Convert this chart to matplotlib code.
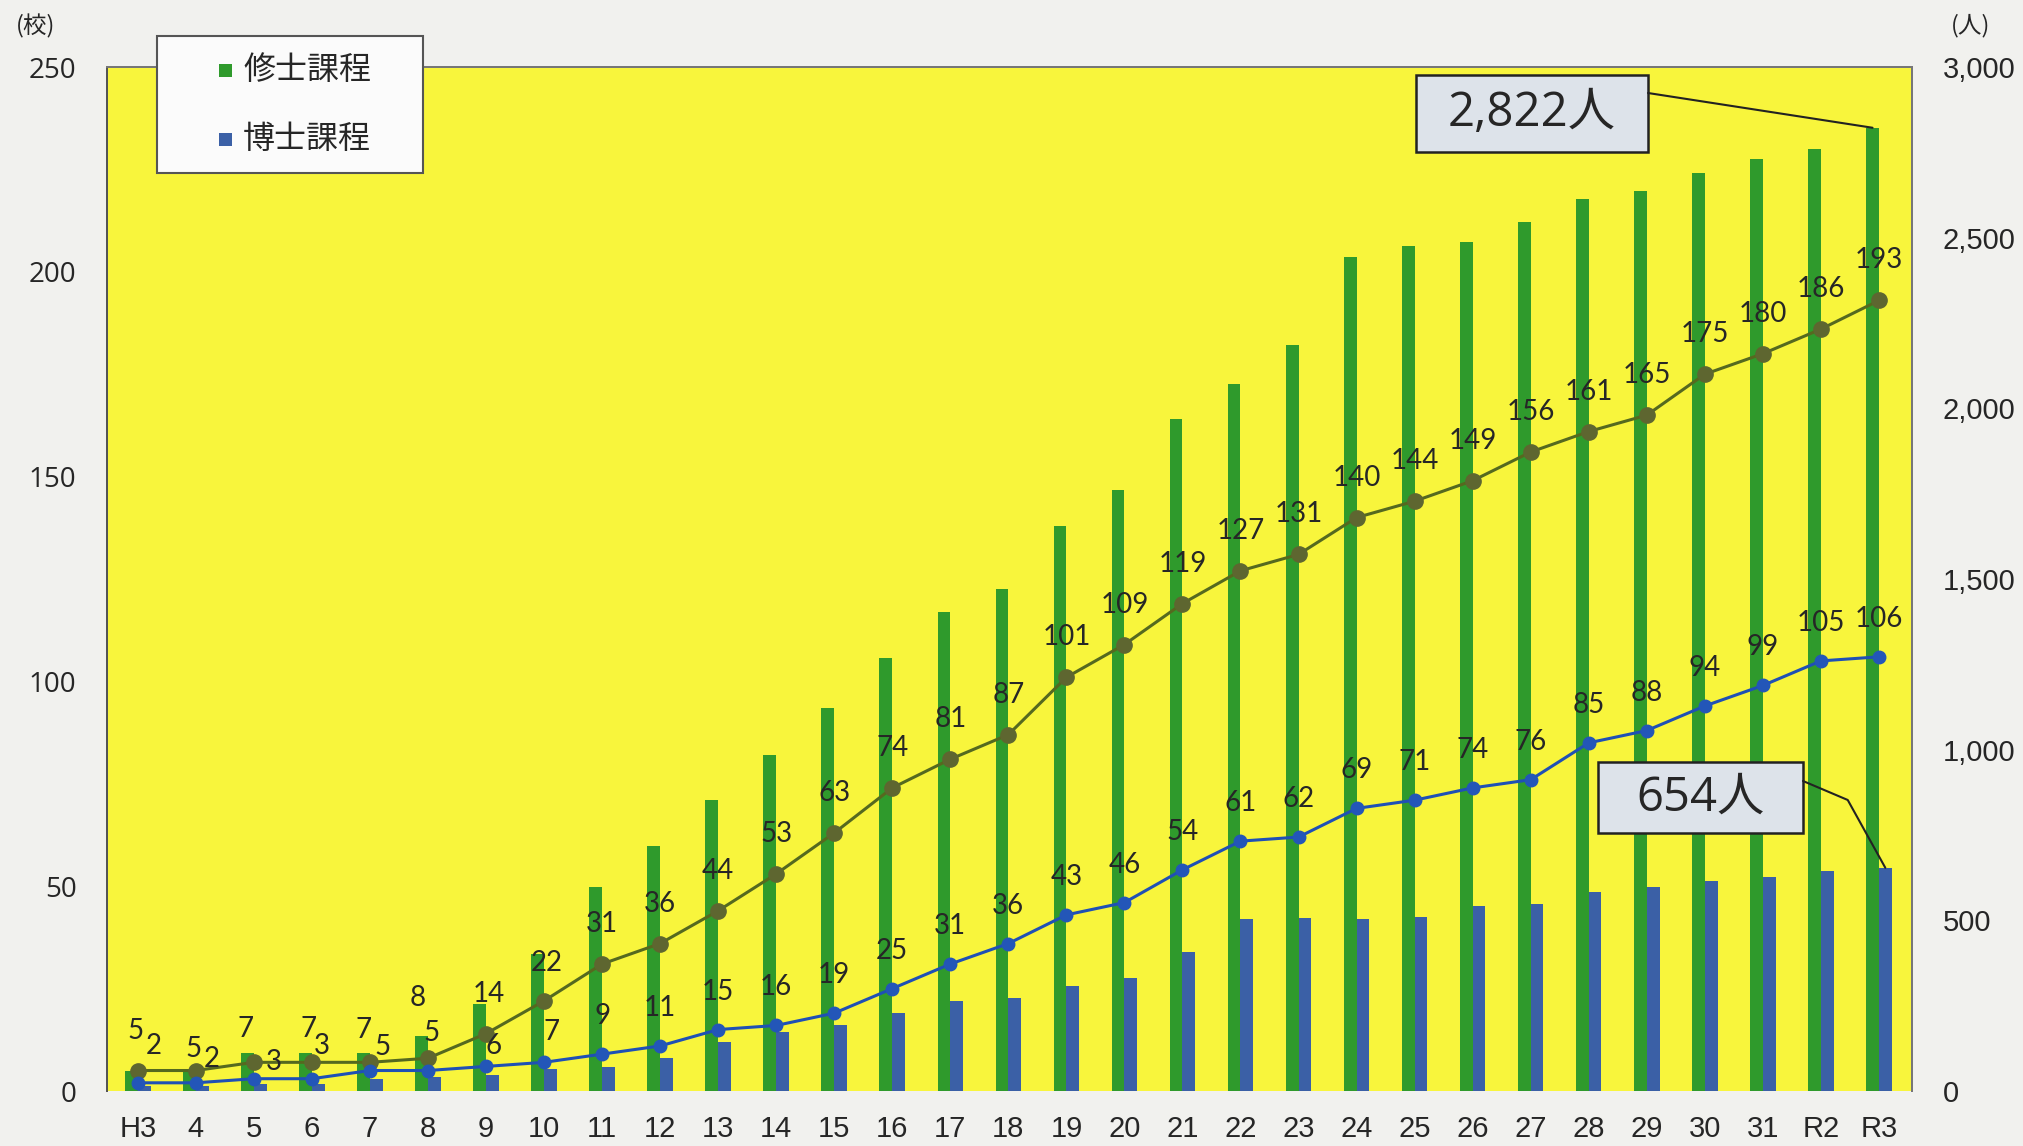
import matplotlib
matplotlib.use('Agg')
import matplotlib.pyplot as plt
from matplotlib.patches import Rectangle
from matplotlib.ticker import FuncFormatter
import numpy as np

# ---------------- data ----------------
categories = ['H3', '4', '5', '6', '7', '8', '9', '10', '11', '12', '13', '14', '15', '16',
              '17', '18', '19', '20', '21', '22', '23', '24', '25', '26', '27', '28', '29',
              '30', '31', 'R2', 'R3']
master_schools = [5, 5, 7, 7, 7, 8, 14, 22, 31, 36, 44, 53, 63, 74, 81, 87, 101, 109, 119,
                  127, 131, 140, 144, 149, 156, 161, 165, 175, 180, 186, 193]
doctor_schools = [2, 2, 3, 3, 5, 5, 6, 7, 9, 11, 15, 16, 19, 25, 31, 36, 43, 46, 54, 61, 62,
                  69, 71, 74, 76, 85, 88, 94, 99, 105, 106]
master_students = [60, 60, 110, 110, 110, 160, 254, 400, 597, 718, 852, 983, 1122, 1268, 1403,
                   1470, 1654, 1760, 1968, 2070, 2185, 2442, 2476, 2487, 2545, 2612, 2636, 2690,
                   2730, 2760, 2822]
doctor_students = [15, 15, 20, 20, 36, 41, 46, 63, 70, 96, 145, 172, 192, 229, 264, 273, 309,
                   330, 408, 505, 506, 505, 511, 541, 548, 583, 599, 616, 627, 645, 654]
legend_labels = ['修士課程', '博士課程']
left_unit = '(校)'
right_unit = '(人)'
callout_master = '2,822人'
callout_doctor = '654人'

# ---------------- style ----------------
W, H = 2024, 1146
BG = '#f1f1ee'
YELLOW = '#f8f53c'
GREEN_BAR = '#2f9a2c'
BLUE_BAR = '#3b60a6'
OLIVE_LINE = '#55691f'
OLIVE_MK = '#5e6630'
BLUE_LINE = '#1f50b5'
BLUE_MK = '#2356b8'
TXT = '#262626'

# label offsets in pixels (dx, dy) for crowded early points
master_off = {0: (-2, 40), 1: (-2, 22), 2: (-8, 33), 3: (-3, 33), 4: (-6, 32), 5: (-10, 60),
              6: (3, 40), 7: (3, 38)}
doctor_off = {0: (16, 37), 1: (16, 24), 2: (20, 17), 3: (10, 33), 4: (13, 24), 5: (4, 38),
              6: (8, 20), 7: (8, 30)}

fig = plt.figure(figsize=(W / 100, H / 100), dpi=100, facecolor=BG)
ax_l, ax_r, ax_t, ax_b = 107, 1912, 67, 1091
ax = fig.add_axes([ax_l / W, 1 - ax_b / H, (ax_r - ax_l) / W, (ax_b - ax_t) / H])
ax2 = ax.twinx()

x = np.arange(len(categories))
bw = 0.22
ax2.bar(x - bw / 2, master_students, width=bw, color=GREEN_BAR, zorder=2)
ax2.bar(x + bw / 2, doctor_students, width=bw, color=BLUE_BAR, zorder=2)

ax.plot(x, master_schools, color=OLIVE_LINE, lw=2.2, marker='o', ms=11,
        mfc=OLIVE_MK, mec=OLIVE_MK, zorder=3)
ax.plot(x, doctor_schools, color=BLUE_LINE, lw=2.2, marker='o', ms=9,
        mfc=BLUE_MK, mec=BLUE_MK, zorder=3)

lab_font = dict(family=['Lato', 'DejaVu Sans'], fontsize=20, color=TXT, ha='center', va='center')
for i, v in enumerate(master_schools):
    dx, dy = master_off.get(i, (0, 40))
    ax.annotate(str(v), (x[i], v), xytext=(dx, dy), textcoords='offset pixels', zorder=5, **lab_font)
for i, v in enumerate(doctor_schools):
    dx, dy = doctor_off.get(i, (0, 38))
    ax.annotate(str(v), (x[i], v), xytext=(dx, dy), textcoords='offset pixels', zorder=5, **lab_font)

ax.set_zorder(ax2.get_zorder() + 1)
ax.patch.set_visible(False)
ax2.patch.set_visible(True)
ax2.patch.set_facecolor(YELLOW)

ax.set_xlim(-0.53, 30.57)
ax.set_ylim(0, 250)
ax2.set_ylim(0, 3000)
ax.set_yticks(np.arange(0, 251, 50))
ax2.set_yticks(np.arange(0, 3001, 500))
ax2.yaxis.set_major_formatter(FuncFormatter(lambda v, p: f'{int(v):,}'))
ax.set_xticks(x)
ax.set_xticklabels(categories)

ax.tick_params(axis='x', length=0, pad=17, labelsize=21, labelcolor=TXT)
ax.tick_params(axis='y', length=0, pad=22, labelsize=20, labelcolor=TXT)
ax2.tick_params(axis='y', length=0, pad=22, labelsize=21, labelcolor=TXT)
for t in ax.get_xticklabels():
    t.set_fontfamily('Liberation Sans')
for t in ax.get_yticklabels():
    t.set_fontfamily('Open Sans')
for t in ax2.get_yticklabels():
    t.set_fontfamily('Liberation Sans')

for a in (ax, ax2):
    a.spines['bottom'].set_visible(False)
    a.spines['left'].set_color('#555555')
    a.spines['right'].set_color('#777777')
    a.spines['top'].set_color('#777777')
    for s in ('left', 'right', 'top'):
        a.spines[s].set_linewidth(1.4)

# unit labels
cjk = ['Noto Sans CJK JP', 'DejaVu Sans']
fig.text(36 / W, 1 - 26 / H, left_unit, family=cjk, fontsize=17, color=TXT, ha='center', va='center')
fig.text(1971 / W, 1 - 26 / H, right_unit, family=cjk, fontsize=17, color=TXT, ha='center', va='center')

# legend (manual)
fig.add_artist(Rectangle((157 / W, 1 - 173 / H), (423 - 157) / W, (173 - 36) / H,
                         transform=fig.transFigure, facecolor='#fbfbfb', edgecolor='#555555',
                         lw=1.5, zorder=10))
for (yc, col, lab) in [(70, GREEN_BAR, legend_labels[0]), (139, BLUE_BAR, legend_labels[1])]:
    fig.add_artist(Rectangle((219 / W, 1 - (yc + 7) / H), 13 / W, 13 / H,
                             transform=fig.transFigure, facecolor=col, edgecolor='none', zorder=11))
    fig.text(243 / W, 1 - yc / H, lab, family=cjk, fontsize=23, color=TXT,
             ha='left', va='center', zorder=12)

# callout boxes
def px2ax(px, py):
    return ((px - ax_l) / (ax_r - ax_l), (ax_b - py) / (ax_b - ax_t))

def callout(text, box, start, target, conn):
    (bx0, by0, bx1, by1) = box
    x0, y1 = px2ax(bx0, by0)
    x1, y0 = px2ax(bx1, by1)
    ax2.add_patch(Rectangle((x0, y0), x1 - x0, y1 - y0, transform=ax2.transAxes,
                            facecolor='#dde3ea', edgecolor='#222222', lw=1.8, zorder=6))
    ax2.text((x0 + x1) / 2, (y0 + y1) / 2, text, transform=ax2.transAxes,
             family=['Open Sans', 'Noto Sans CJK JP'], fontsize=34, color=TXT,
             ha='center', va='center', zorder=7)
    ax2.annotate('', xy=target, xytext=px2ax(*start), textcoords='axes fraction',
                 arrowprops=dict(arrowstyle='-', color='#222222', lw=1.5,
                                 shrinkA=0, shrinkB=0, connectionstyle=conn), zorder=6)

callout(callout_master, (1416, 75, 1648, 152), (1648, 93),
        (x[-1] - bw / 2, master_students[-1]), 'arc3,rad=0')
callout(callout_doctor, (1598, 762, 1803, 833), (1803, 781),
        (x[-1] + bw / 2, doctor_students[-1]), 'angle,angleA=-23,angleB=-61,rad=0')

fig.savefig('out.png', dpi=100, facecolor=BG)
